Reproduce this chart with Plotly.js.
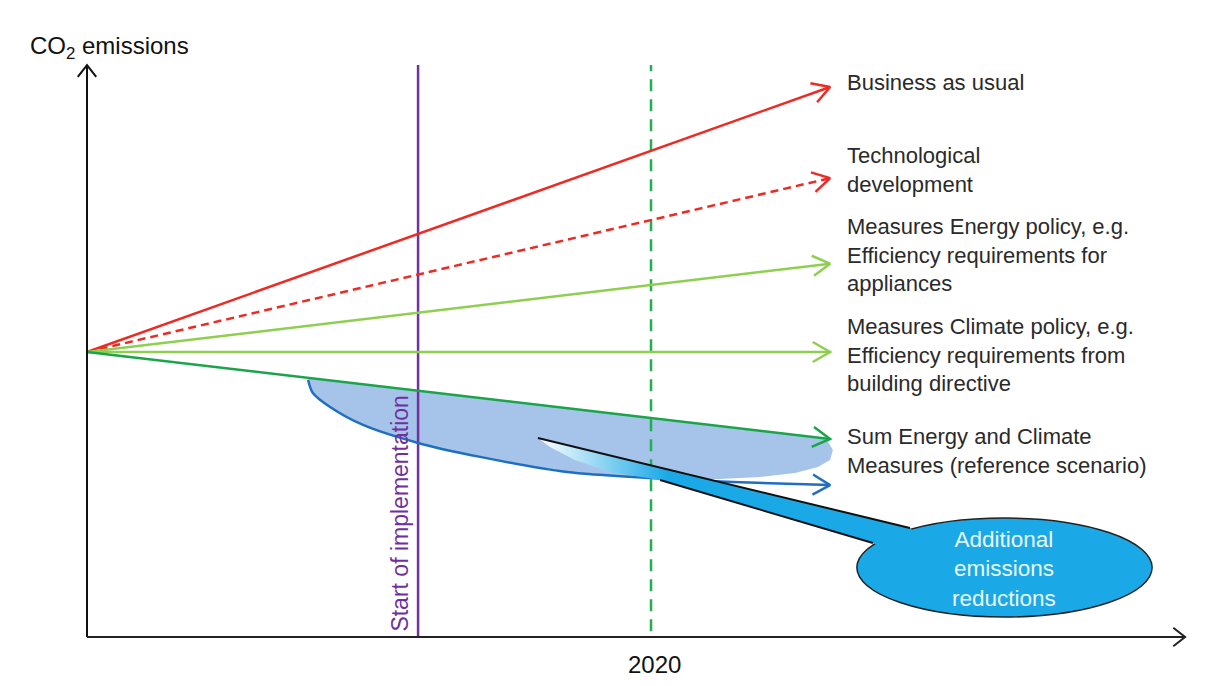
<!DOCTYPE html>
<html><head><meta charset="utf-8">
<script src="https://cdn.plot.ly/plotly-3.0.1.min.js"></script>
<style>html,body{margin:0;padding:0;background:#fff}#chart{width:1215px;height:686px}</style>
</head><body><div id="chart"></div>
<script>
// ---- schematic data (x: year, y: CO2 emission index, start = 100) ----
const startYear = 2000;
const endYear = 2026.35;
const startValue = 100;
const implementationYear = 2011.74;
const targetYear = 2020;
const axisTopValue = 200.7;
const axisEndYear = 2038.94;

const scenarioLabels = [
  'Business as usual',
  'Technological<br>development',
  'Measures Energy policy, e.g.<br>Efficiency requirements for<br>appliances',
  'Measures Climate policy, e.g.<br>Efficiency requirements from<br>building directive',
  'Sum Energy and Climate<br>Measures (reference scenario)'
];
const scenarioEndValues = [193, 161, 131, 100, 69.5];
const scenarioLabelValues = [194.4, 164.0, 133.9, 98.9, 65.4];

// additional reductions path (blue curve)
const additionalYears  = [2007.84, 2008.01, 2008.62, 2009.79, 2011.74, 2013.94, 2017.02, 2019.96, 2022.91, 2026.35];
const additionalValues = [90.2, 85.6, 80.7, 74.4, 68.1, 63.2, 57.9, 55.8, 54.4, 53.3];

// shaded band between reference scenario and additional reductions
const bandYears  = [2007.87, 2025.82, 2026.24, 2026.45, 2026.35, 2025.92, 2025.11, 2023.87, 2022.45, 2021.03, 2020.00, 2017.02, 2013.94, 2011.74, 2009.79, 2008.62, 2008.01, 2007.84];
const bandValues = [90.98, 70.25, 69.12, 65.61, 62.11, 59.65, 57.54, 56.14, 55.44, 55.44, 55.79, 57.89, 63.16, 68.07, 74.39, 80.70, 85.61, 90.18];

// callout bubble
const bubbleYears  = [2027.30, 2037.77];
const bubbleValues = [7.0, 41.75];
const bubbleText = 'Additional<br>emissions<br>reductions';
const tailYears  = [2015.99, 2029.18, 2029.89, 2028.83, 2027.87, 2020.32, 2018.55, 2017.30, 2016.42, 2015.99];
const tailValues = [69.82, 38.25, 32.28, 28.42, 32.98, 55.09, 57.89, 62.11, 66.67, 69.82];
const tailUpperYears = [2015.99, 2029.18];
const tailUpperValues = [69.82, 38.25];
const tailLowerYears = [2020.32, 2027.87];
const tailLowerValues = [55.09, 32.98];

// ---- page geometry ----
const W = 1215, H = 686;
const xr = [1996.915, 2040.0], yr = [-17.193, 223.509];
const sx = W / (xr[1] - xr[0]), sy = H / (yr[1] - yr[0]);

function chevron(x0, y0, x1, y1, len, angDeg) {
  const dx = (x1 - x0) * sx, dy = (y1 - y0) * sy;
  const d = Math.hypot(dx, dy), ux = dx / d, uy = dy / d;
  const xs = [], ys = [];
  [1, -1].forEach((s, i) => {
    const a = s * angDeg * Math.PI / 180;
    const bx = -ux * Math.cos(a) + uy * Math.sin(a);
    const by = -ux * Math.sin(a) - uy * Math.cos(a);
    xs.push(x1 + len * bx / sx); ys.push(y1 + len * by / sy);
    if (i === 0) { xs.push(x1); ys.push(y1); }
  });
  return {x: xs, y: ys};
}

const FONT = 'Liberation Sans, Arial, sans-serif';
const TXT = '#2a2a2a';
const scenarioColors = ['#ee2a24', '#ee2a24', '#8fcf4f', '#8fcf4f', '#1aa54a'];
const scenarioDash = ['solid', 'dash', 'solid', 'solid', 'solid'];

const traces = [];
// shaded band
traces.push({x: bandYears, y: bandValues, mode: 'lines', fill: 'toself', fillcolor: '#a6c4e9',
  line: {width: 0, color: 'rgba(0,0,0,0)'}, hoverinfo: 'skip', showlegend: false});

// vertical markers
traces.push({x: [implementationYear, implementationYear], y: [0, axisTopValue], mode: 'lines',
  line: {color: '#7030a0', width: 2.5}, showlegend: false, hoverinfo: 'skip'});
traces.push({x: [targetYear, targetYear], y: [2, axisTopValue], mode: 'lines',
  line: {color: '#1fb050', width: 2.5, dash: '12px,8px'}, showlegend: false, hoverinfo: 'skip'});

// scenario lines with chevron heads
scenarioEndValues.forEach((v, i) => {
  traces.push({x: [startYear, endYear], y: [startValue, v], mode: 'lines', name: scenarioLabels[i],
    line: {color: scenarioColors[i], width: 2.5, dash: scenarioDash[i] === 'dash' ? '8px,5px' : 'solid'},
    showlegend: false, hoverinfo: 'skip'});
  const c = chevron(startYear, startValue, endYear, v, 20, 30);
  traces.push({x: c.x, y: c.y, mode: 'lines', line: {color: scenarioColors[i], width: 2.5},
    showlegend: false, hoverinfo: 'skip'});
});

// additional reductions curve
traces.push({x: additionalYears, y: additionalValues, mode: 'lines',
  line: {color: '#1f6fc1', width: 2.5, shape: 'spline', smoothing: 0.8}, showlegend: false, hoverinfo: 'skip'});
{
  const n = additionalYears.length;
  const c = chevron(additionalYears[n - 2], additionalValues[n - 2], additionalYears[n - 1], additionalValues[n - 1], 20, 30);
  traces.push({x: c.x, y: c.y, mode: 'lines', line: {color: '#1f6fc1', width: 2.5}, showlegend: false, hoverinfo: 'skip'});
}

// callout tail
traces.push({x: tailYears, y: tailValues, mode: 'lines', fill: 'toself',
  line: {width: 0, color: 'rgba(0,0,0,0)', shape: 'linear'},
  fillgradient: {type: 'horizontal', start: 2016.0, stop: 2020.6,
    colorscale: [[0, 'rgba(255,255,255,1)'], [1, '#1aa9e6']]},
  showlegend: false, hoverinfo: 'skip'});
traces.push({x: tailUpperYears, y: tailUpperValues, mode: 'lines', line: {color: '#111', width: 2},
  showlegend: false, hoverinfo: 'skip'});
traces.push({x: tailLowerYears, y: tailLowerValues, mode: 'lines', line: {color: '#111', width: 2},
  showlegend: false, hoverinfo: 'skip'});

// axes
traces.push({x: [startYear, startYear], y: [0, axisTopValue], mode: 'lines', line: {color: '#111', width: 2},
  showlegend: false, hoverinfo: 'skip'});
traces.push({x: [startYear, axisEndYear], y: [0, 0], mode: 'lines', line: {color: '#222', width: 2},
  showlegend: false, hoverinfo: 'skip'});
{
  const cy = chevron(startYear, 0, startYear, axisTopValue, 15, 38);
  traces.push({x: cy.x, y: cy.y, mode: 'lines', line: {color: '#111', width: 2}, showlegend: false, hoverinfo: 'skip'});
  const cx = chevron(startYear, 0, axisEndYear, 0, 15, 38);
  traces.push({x: cx.x, y: cx.y, mode: 'lines', line: {color: '#222', width: 2}, showlegend: false, hoverinfo: 'skip'});
}

const annotations = [];
scenarioLabels.forEach((t, i) => {
  annotations.push({x: 2026.88, y: scenarioLabelValues[i], xref: 'x', yref: 'y', text: t, showarrow: false,
    xanchor: 'left', yanchor: 'middle', align: 'left', font: {family: FONT, size: 22, color: TXT}});
});
annotations.push({x: 1997.92, y: 206.7, xref: 'x', yref: 'y', text: 'CO<sub>2</sub> emissions', showarrow: false,
  xanchor: 'left', yanchor: 'middle', font: {family: FONT, size: 24, color: '#111'}});
annotations.push({x: targetYear + 0.14, y: -9.8, xref: 'x', yref: 'y', text: String(targetYear), showarrow: false,
  xanchor: 'center', yanchor: 'middle', font: {family: FONT, size: 24, color: '#111'}});
annotations.push({x: 2011.10, y: 43.3, xref: 'x', yref: 'y', text: 'Start of implementation', showarrow: false,
  textangle: -90, xanchor: 'center', yanchor: 'middle', font: {family: FONT, size: 23, color: '#7030a0'}});
annotations.push({x: (bubbleYears[0] + bubbleYears[1]) / 2, y: 24.0, xref: 'x', yref: 'y', text: bubbleText,
  showarrow: false, xanchor: 'center', yanchor: 'middle', align: 'center',
  font: {family: FONT, size: 22.5, color: '#eaf7fd'}});

const layout = {
  width: W, height: H,
  margin: {l: 0, r: 0, t: 0, b: 0},
  paper_bgcolor: '#fff', plot_bgcolor: '#fff',
  xaxis: {range: xr, visible: false, fixedrange: true},
  yaxis: {range: yr, visible: false, fixedrange: true},
  showlegend: false,
  shapes: [{type: 'circle', xref: 'x', yref: 'y', layer: 'below',
    x0: bubbleYears[0], x1: bubbleYears[1], y0: bubbleValues[0], y1: bubbleValues[1],
    fillcolor: '#1aa9e6', line: {color: '#222', width: 1.5}}],
  annotations: annotations
};

Plotly.newPlot('chart', traces, layout, {staticPlot: true, displayModeBar: false});
</script>
</body></html>
